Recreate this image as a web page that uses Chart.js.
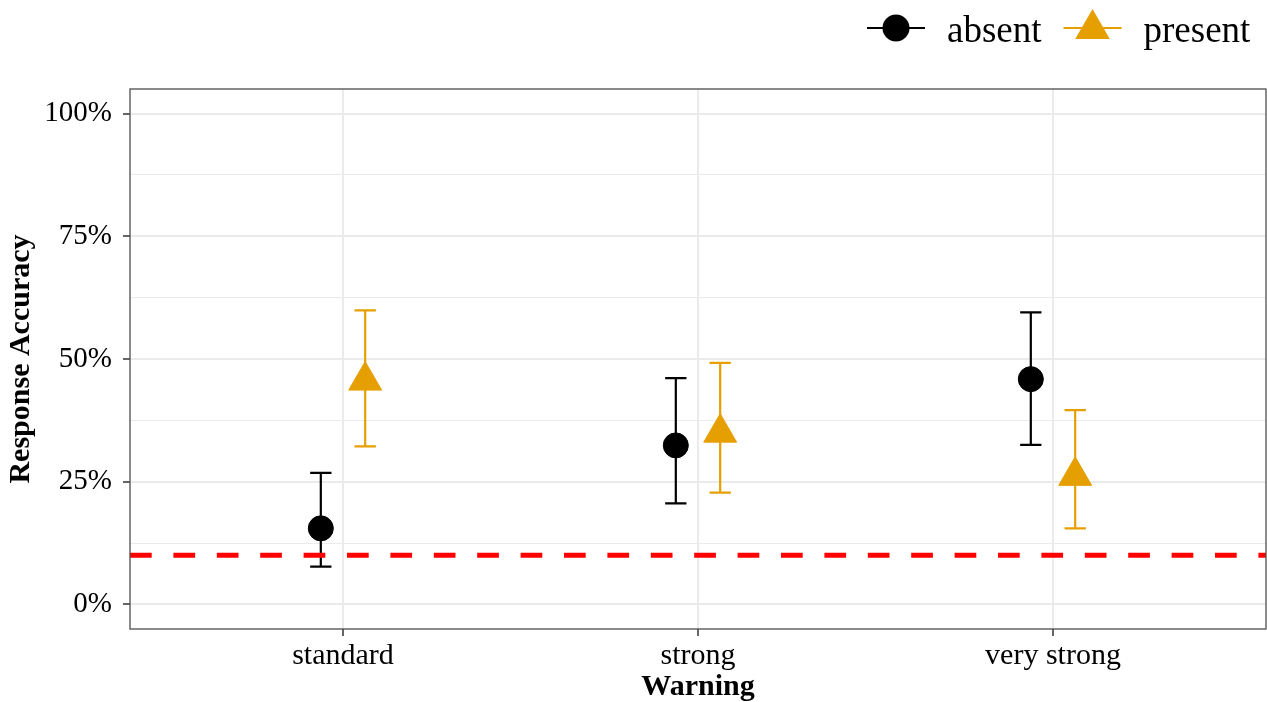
<!DOCTYPE html>
<html>
<head>
<meta charset="utf-8">
<title>Response Accuracy by Warning</title>
<script src="https://cdn.jsdelivr.net/npm/chart.js"></script>
<style>
  html, body { margin: 0; padding: 0; background: #fff; }
  #chart { display: block; }
</style>
</head>
<body>
<canvas id="chart" width="1267" height="702"></canvas>
<script>
// x categories
const warnings = ['standard', 'strong', 'very strong'];

// mean response accuracy (%) with lower / upper interval, per group
const absentMean = [15.5, 32.4, 45.9];
const absentLow = [7.7, 20.6, 32.5];
const absentHigh = [26.8, 46.1, 59.5];

const presentMean = [45.6, 35.0, 26.2];
const presentLow = [32.2, 22.8, 15.5];
const presentHigh = [59.9, 49.2, 39.6];

// y axis ticks (labelled) and minor grid lines
const yTicks = [0, 25, 50, 75, 100];
const yMinor = [12.5, 37.5, 62.5, 87.5];

// chance level reference line
const chanceLevel = 10;

const serif = '"Liberation Serif", "Times New Roman", serif';
const dodge = 0.0625;   // half of the dodge width, in category units
const capWidth = 0.06;  // error bar cap width, in category units

function dodged(means, shift) {
    return means.map((m, i) => ({ x: i + 1 + shift, y: m }));
}

// error bars drawn under the points
const errorBars = {
    id: 'errorBars',
    beforeDatasetsDraw(chart) {
        const { ctx, scales: { x, y } } = chart;
        chart.data.datasets.forEach(ds => {
            if (!ds.errLow) return;
            ctx.save();
            ctx.strokeStyle = ds.backgroundColor;
            ctx.lineWidth = 2.2;
            ds.data.forEach((p, j) => {
                const px = x.getPixelForValue(p.x);
                const half = x.getPixelForValue(p.x + capWidth / 2) - px;
                const lo = y.getPixelForValue(ds.errLow[j]);
                const hi = y.getPixelForValue(ds.errHigh[j]);
                ctx.beginPath();
                ctx.moveTo(px, lo); ctx.lineTo(px, hi);
                ctx.moveTo(px - half, lo); ctx.lineTo(px + half, lo);
                ctx.moveTo(px - half, hi); ctx.lineTo(px + half, hi);
                ctx.stroke();
            });
            ctx.restore();
        });
    }
};

// grey frame round the panel
const panelBorder = {
    id: 'panelBorder',
    afterDatasetsDraw(chart) {
        const { ctx, chartArea: a } = chart;
        ctx.save();
        ctx.strokeStyle = '#4d4d4d';
        ctx.lineWidth = 1.3;
        ctx.strokeRect(a.left, a.top, a.right - a.left, a.bottom - a.top);
        ctx.restore();
    }
};

function drawKey(ctx, style, r, cx, cy) {
    ctx.beginPath();
    if (style === 'triangle') {
        for (let k = 0; k < 3; k++) {
            const ang = k * 2 * Math.PI / 3;
            const px = cx + Math.sin(ang) * r, py = cy - Math.cos(ang) * r;
            k === 0 ? ctx.moveTo(px, py) : ctx.lineTo(px, py);
        }
        ctx.closePath();
    } else {
        ctx.arc(cx, cy, r, 0, Math.PI * 2);
    }
    ctx.fill();
}

// legend at the top right: line - point - line, then label
const keyLegend = {
    id: 'keyLegend',
    afterDraw(chart) {
        const ctx = chart.ctx;
        let cx = 896;
        ctx.save();
        ctx.font = '37px ' + serif;
        chart.data.datasets.filter(d => d.errLow).forEach(ds => {
            const cy = ds.pointStyle === 'triangle' ? 29 : 28;
            ctx.strokeStyle = ds.backgroundColor;
            ctx.fillStyle = ds.backgroundColor;
            ctx.lineWidth = 2;
            ctx.beginPath();
            ctx.moveTo(cx - 29, 28); ctx.lineTo(cx + 29, 28);
            ctx.stroke();
            drawKey(ctx, ds.pointStyle, ds.pointRadius + 1, cx, cy);
            ctx.fillStyle = '#000';
            ctx.textBaseline = 'alphabetic';
            ctx.fillText(ds.label, cx + 51, 42);
            cx += 51 + ctx.measureText(ds.label).width + 22 + 29;
        });
        ctx.restore();
    }
};

const chart = new Chart(document.getElementById('chart'), {
    type: 'scatter',
    data: {
        datasets: [
            {
                label: 'chance',
                data: [{ x: 0.4, y: chanceLevel }, { x: 3.6, y: chanceLevel }],
                showLine: true,
                borderColor: '#FF0000',
                borderWidth: 5,
                borderDash: [21.7, 21.7],
                pointRadius: 0,
                order: 0
            },
            {
                label: 'absent',
                data: dodged(absentMean, -dodge),
                errLow: absentLow,
                errHigh: absentHigh,
                backgroundColor: '#000000',
                borderColor: '#000000',
                pointStyle: 'circle',
                pointRadius: 12.5,
                pointBorderWidth: 1,
                order: 1
            },
            {
                label: 'present',
                data: dodged(presentMean, dodge),
                errLow: presentLow,
                errHigh: presentHigh,
                backgroundColor: '#E69F00',
                borderColor: '#E69F00',
                pointStyle: 'triangle',
                pointRadius: 19,
                pointBorderWidth: 1,
                order: 2
            }
        ]
    },
    options: {
        responsive: false,
        animation: false,
        layout: { autoPadding: false, padding: { top: 89, right: 1, left: 0, bottom: 0 } },
        plugins: {
            legend: { display: false },
            tooltip: { enabled: false }
        },
        scales: {
            x: {
                type: 'linear',
                min: 0.4,
                max: 3.6,
                afterBuildTicks: s => { s.ticks = warnings.map((w, i) => ({ value: i + 1 })); },
                afterFit: s => { s.height = 73; },
                ticks: {
                    callback: v => warnings[v - 1],
                    font: { family: serif, size: 30 },
                    color: '#000',
                    padding: 2,
                    maxRotation: 0,
                    autoSkip: false
                },
                grid: { color: '#EBEBEB', lineWidth: 2, tickColor: '#333', tickLength: 7, tickWidth: 1.5 },
                border: { display: false },
                title: {
                    display: true,
                    text: 'Warning',
                    color: '#000',
                    font: { family: serif, size: 30, weight: 'bold', lineHeight: 1 },
                    padding: { top: 0, bottom: 0 }
                }
            },
            y: {
                type: 'linear',
                min: -5,
                max: 105,
                afterBuildTicks: s => {
                    s.ticks = yTicks.concat(yMinor).sort((a, b) => a - b).map(v => ({ value: v }));
                },
                afterFit: s => { s.width = 130; },
                ticks: {
                    callback: v => yTicks.includes(v) ? v + '%' : '',
                    font: { family: serif, size: 29 },
                    color: '#000',
                    padding: 11,
                    autoSkip: false
                },
                grid: {
                    color: '#EBEBEB',
                    lineWidth: c => yTicks.includes(c.tick.value) ? 2 : 1,
                    tickColor: c => yTicks.includes(c.tick.value) ? '#333' : 'rgba(0,0,0,0)',
                    tickLength: 7,
                    tickWidth: 1.5
                },
                border: { display: false },
                title: {
                    display: true,
                    text: 'Response Accuracy',
                    color: '#000',
                    font: { family: serif, size: 30, weight: 'bold', lineHeight: 1 },
                    padding: { top: 6, bottom: 0 }
                }
            }
        }
    },
    plugins: [errorBars, panelBorder, keyLegend]
});
</script>
</body>
</html>
